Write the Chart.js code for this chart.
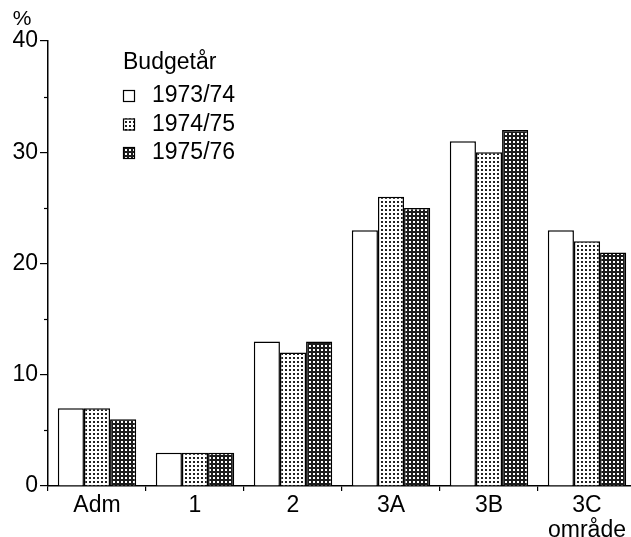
<!DOCTYPE html>
<html>
<head>
<meta charset="utf-8">
<script src="https://cdn.jsdelivr.net/npm/chart.js@4.4.0/dist/chart.umd.min.js"></script>
<style>
html, body { margin: 0; padding: 0; background: #fff; overflow: hidden; }
#wrap { width: 631px; height: 537px; overflow: hidden; }
</style>
</head>
<body>
<div id="wrap"><canvas id="chart" width="645" height="537"></canvas></div>
<script>
// Data
var categories = ['Adm', '1', '2', '3A', '3B', ['3C', 'område']];
var seriesLabels = ['1973/74', '1974/75', '1975/76'];
var budget7374 = [7, 3, 13, 23, 31, 23];
var budget7475 = [7, 3, 12, 26, 30, 22];
var budget7576 = [6, 3, 13, 25, 32, 21];
var yMinorTicks = [5, 15, 25, 35];
var legendTitle = 'Budgetår';
var unitLabel = '%';

var fontFamily = '"Liberation Sans", Arial, Helvetica, sans-serif';
var ctx = document.getElementById('chart').getContext('2d');

// Dot raster fills like the printed original
function makePattern(bg, dot, size, dotSize) {
    var c = document.createElement('canvas');
    c.width = size;
    c.height = size;
    var p = c.getContext('2d');
    p.fillStyle = bg;
    p.fillRect(0, 0, size, size);
    p.fillStyle = dot;
    p.fillRect(1, 1, dotSize, dotSize);
    return ctx.createPattern(c, 'repeat');
}

var fills = [
    '#ffffff',
    makePattern('#ffffff', '#222222', 4, 2),
    makePattern('#1c1c1c', '#ffffff', 4, 2)
];
var seriesData = [budget7374, budget7475, budget7576];

// Minor ticks on the y axis and the % unit above it
var extras = {
    id: 'extras',
    afterDraw: function (chart) {
        var c = chart.ctx,
            y = chart.scales.y;
        c.save();
        c.strokeStyle = '#000';
        c.lineWidth = 1.2;
        yMinorTicks.forEach(function (v) {
            var py = Math.round(y.getPixelForValue(v)) + 0.5;
            c.beginPath();
            c.moveTo(y.right - 4, py);
            c.lineTo(y.right, py);
            c.stroke();
        });
        c.fillStyle = '#000';
        c.font = '21px ' + fontFamily;
        c.textAlign = 'center';
        c.textBaseline = 'middle';
        c.fillText(unitLabel, 22, 19);
        c.restore();
    }
};

// Legend drawn inside the plot, top left
var insideLegend = {
    id: 'insideLegend',
    afterDraw: function (chart) {
        var c = chart.ctx,
            area = chart.chartArea,
            x0 = area.left + 75,
            y0 = area.top + 22;
        c.save();
        c.fillStyle = '#000';
        c.font = '23px ' + fontFamily;
        c.textAlign = 'left';
        c.textBaseline = 'middle';
        c.fillText(legendTitle, x0, y0);
        chart.data.datasets.forEach(function (ds, i) {
            var cy = y0 + 33 + i * 28.5;
            c.fillStyle = ds.backgroundColor;
            c.fillRect(x0, cy - 6, 12, 12);
            c.strokeStyle = '#000';
            c.lineWidth = 1.2;
            c.strokeRect(x0 + 0.5, cy - 5.5, 11, 11);
            c.fillStyle = '#000';
            c.fillText(ds.label, x0 + 29, cy);
        });
        c.restore();
    }
};

var chart = new Chart(ctx, {
    type: 'bar',
    data: {
        labels: categories,
        datasets: seriesLabels.map(function (label, i) {
            return {
                label: label,
                data: seriesData[i],
                backgroundColor: fills[i],
                borderColor: '#000',
                borderWidth: 1.5,
                categoryPercentage: 0.8,
                barPercentage: 1.0
            };
        })
    },
    options: {
        responsive: false,
        animation: false,
        devicePixelRatio: 1,
        layout: {
            padding: { left: 0, right: 9, top: 41, bottom: 0 }
        },
        scales: {
            x: {
                grid: {
                    offset: true,
                    drawOnChartArea: false,
                    tickLength: 5,
                    color: '#000',
                    lineWidth: 1.2
                },
                border: { color: '#000', width: 1.5 },
                ticks: {
                    color: '#000',
                    font: { family: fontFamily, size: 23, lineHeight: 1.05 },
                    padding: 3,
                    maxRotation: 0,
                    autoSkip: false
                },
                afterFit: function (scale) {
                    scale.height = 51;
                }
            },
            y: {
                min: 0,
                max: 40,
                grid: {
                    drawOnChartArea: false,
                    tickLength: 8,
                    color: '#000',
                    lineWidth: 1.2
                },
                border: { color: '#000', width: 1.5 },
                ticks: {
                    stepSize: 10,
                    color: '#000',
                    font: { family: fontFamily, size: 23 },
                    padding: 2
                },
                afterFit: function (scale) {
                    scale.width = 48;
                }
            }
        },
        plugins: {
            legend: { display: false },
            tooltip: { enabled: false }
        }
    },
    plugins: [extras, insideLegend]
});
</script>
</body>
</html>
